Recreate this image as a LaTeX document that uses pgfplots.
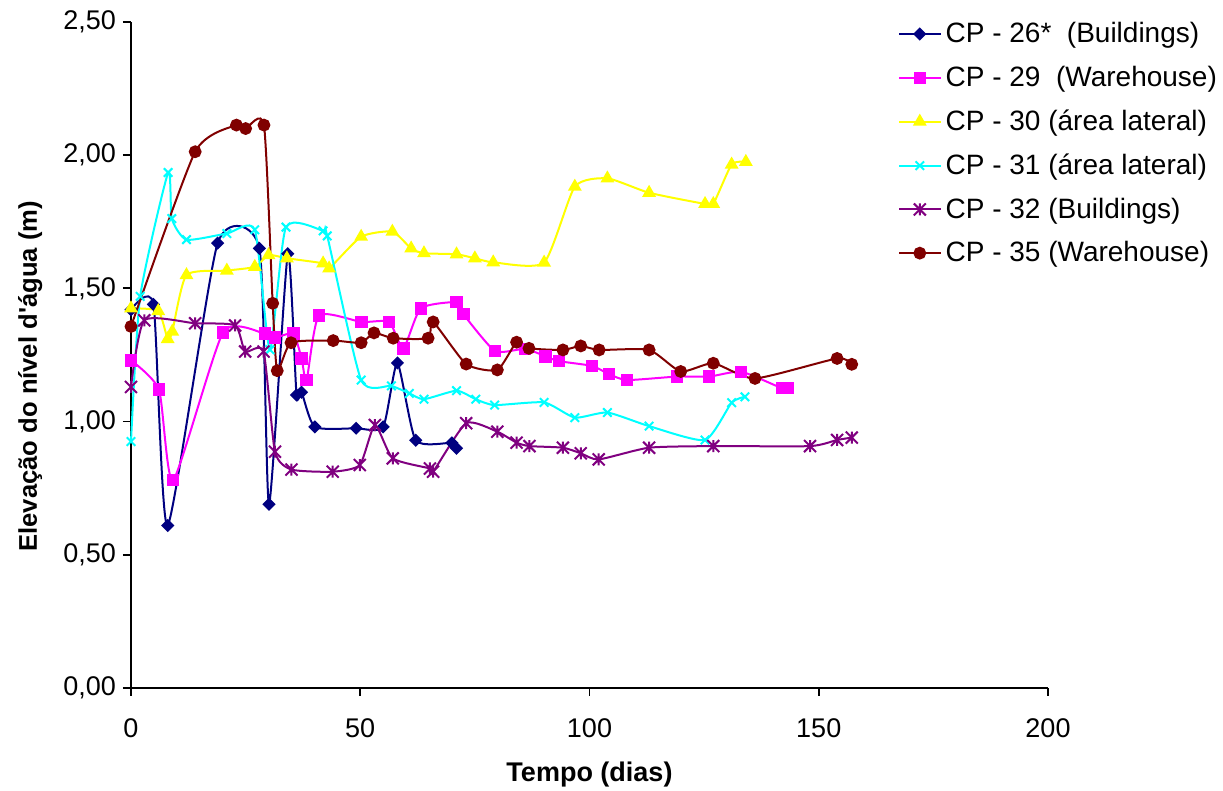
\documentclass[border=0pt]{standalone}
\usepackage{fontspec}
\setmainfont{Liberation Sans}
\usepackage{pgfplots}
\pgfplotsset{compat=1.18}
\usetikzlibrary{plotmarks}
\definecolor{cpnavy}{RGB}{0,0,128}
\definecolor{cpmag}{RGB}{255,0,255}
\definecolor{cpyel}{RGB}{255,255,0}
\definecolor{cpcyan}{RGB}{0,255,255}
\definecolor{cppur}{RGB}{128,0,128}
\definecolor{cpred}{RGB}{128,0,0}
\pgfdeclareplotmark{xstar}{%
  \pgfpathmoveto{\pgfqpoint{-\pgfplotmarksize}{-\pgfplotmarksize}}%
  \pgfpathlineto{\pgfqpoint{\pgfplotmarksize}{\pgfplotmarksize}}%
  \pgfpathmoveto{\pgfqpoint{-\pgfplotmarksize}{\pgfplotmarksize}}%
  \pgfpathlineto{\pgfqpoint{\pgfplotmarksize}{-\pgfplotmarksize}}%
  \pgfpathmoveto{\pgfqpoint{0pt}{-\pgfplotmarksize}}%
  \pgfpathlineto{\pgfqpoint{0pt}{\pgfplotmarksize}}%
  \pgfusepathqstroke}
\pgfdeclareplotmark{sqdiamond}{%
  \pgfpathmoveto{\pgfqpoint{0pt}{\pgfplotmarksize}}%
  \pgfpathlineto{\pgfqpoint{\pgfplotmarksize}{0pt}}%
  \pgfpathlineto{\pgfqpoint{0pt}{-\pgfplotmarksize}}%
  \pgfpathlineto{\pgfqpoint{-\pgfplotmarksize}{0pt}}%
  \pgfpathclose
  \pgfusepathqfillstroke}
\begin{document}
\begin{tikzpicture}
\useasboundingbox (0pt,0pt) rectangle (611.5pt,395.5pt);
\begin{axis}[
  at={(65.5pt,51.5pt)}, anchor=south west,
  scale only axis, width=458.5pt, height=333pt,
  xmin=0, xmax=200, ymin=0, ymax=2.5,
  axis lines=left,
  axis line style={-, line width=0.9pt},
  tick align=outside, major tick length=4pt,
  tick style={line width=0.9pt, black},
  xtick={0,50,100,150,200},
  ytick={0,0.5,1,1.5,2,2.5},
  /pgf/number format/assume math mode=true,
  yticklabel style={/pgf/number format/.cd, fixed, fixed zerofill, precision=2, use comma},
  ticklabel style={font=\fontsize{13.5}{16}\selectfont},
  xticklabel style={yshift=-8pt},
  xlabel={\textbf{Tempo (dias)}},
  ylabel={\textbf{Elevação do nível d\textquotesingle água (m)}},
  label style={font=\fontsize{13.5}{16}\selectfont},
  x label style={at={(axis description cs:0.5,-0.130)}, anchor=center},
  y label style={at={(axis description cs:-0.110,0.468)}, anchor=center, font=\fontsize{12.8}{15}\selectfont},
  clip=false,
  every axis plot/.append style={line width=1pt, smooth, tension=0.35},
  legend style={at={(axis description cs:0.836,1.006)}, anchor=north west,
    draw=none, fill=none, font=\fontsize{14}{17}\selectfont,
    row sep=6.2pt, inner sep=0pt},
  legend cell align=left,
  legend image code/.code={\draw[mark repeat=2,mark phase=2,#1] plot coordinates {(0pt,0pt) (10.4pt,0pt) (20.8pt,0pt)};},
]
\addplot[color=cpnavy, mark=sqdiamond, mark options={solid}, mark size=2.6pt] coordinates {
(0,1.42) (4.9,1.44) (8.0,0.61) (18.9,1.67) (28.0,1.65) (30.1,0.69) (34.2,1.63) (36.1,1.10) (37.2,1.11) (40.1,0.98) (49.1,0.975) (55.0,0.98) (58.1,1.22) (62.1,0.93) (70.0,0.92) (71.0,0.90)};
\addlegendentry{CP - 26*\ \ (Buildings)}
\addplot[color=cpmag, mark=square*, mark size=2.6pt] coordinates {
(0,1.23) (6.1,1.12) (9.2,0.78) (20.1,1.335) (29.2,1.33) (31.4,1.315) (35.4,1.33) (37.2,1.237) (38.3,1.156) (41.0,1.398) (50.3,1.374) (56.3,1.374) (59.4,1.275) (63.2,1.425) (71.0,1.448) (72.5,1.403) (79.4,1.265) (85.9,1.273) (90.4,1.245) (93.3,1.227) (100.5,1.209) (104.3,1.178) (108.2,1.156) (119.1,1.169) (126.1,1.169) (133.1,1.187) (142.0,1.125) (143.3,1.125)};
\addlegendentry{CP - 29\ \ (Warehouse)}
\addplot[color=cpyel, mark=triangle*, mark size=3pt] coordinates {
(0,1.425) (5.95,1.415) (8.0,1.31) (9.0,1.338) (12.1,1.55) (20.9,1.567) (27.0,1.581) (30.0,1.625) (34.0,1.613) (41.9,1.594) (43.2,1.575) (50.2,1.694) (57.0,1.713) (61.1,1.650) (63.9,1.632) (71.0,1.628) (75.0,1.613) (79.0,1.598) (90.1,1.597) (96.8,1.882) (103.9,1.913) (113.0,1.859) (125.2,1.817) (127.0,1.817) (131.0,1.965) (134.1,1.975)};
\addlegendentry{CP - 30 (área lateral)}
\addplot[color=cpcyan, mark=x, mark size=3pt] coordinates {
(0,0.925) (2.0,1.47) (8.1,1.935) (8.9,1.762) (12.1,1.683) (20.9,1.706) (27.0,1.72) (30.3,1.27) (33.8,1.73) (41.9,1.716) (42.8,1.697) (50.2,1.156) (56.8,1.134) (60.7,1.106) (63.9,1.084) (71.0,1.116) (75.2,1.084) (79.3,1.062) (90.1,1.072) (96.8,1.015) (103.9,1.034) (113.0,0.983) (125.2,0.931) (131.0,1.071) (133.9,1.093)};
\addlegendentry{CP - 31 (área lateral)}
\addplot[color=cppur, mark=xstar, mark size=3pt] coordinates {
(0,1.13) (2.9,1.38) (14.0,1.369) (22.7,1.361) (24.9,1.263) (28.9,1.263) (31.4,0.887) (35.0,0.82) (44.0,0.812) (49.9,0.837) (53.2,0.987) (57.1,0.862) (65.2,0.824) (65.9,0.812) (73.1,0.994) (79.9,0.962) (84.1,0.921) (86.9,0.908) (94.2,0.902) (98.1,0.881) (102.0,0.858) (113.0,0.902) (127.0,0.908) (148.1,0.908) (154.0,0.931) (157.2,0.94)};
\addlegendentry{CP - 32 (Buildings)}
\addplot[color=cpred, mark=*, mark size=2.7pt] coordinates {
(0,1.357) (14.0,2.013) (23.0,2.113) (25.0,2.10) (29.0,2.113) (30.9,1.444) (31.9,1.191) (34.9,1.296) (44.1,1.304) (50.2,1.296) (53.0,1.333) (57.2,1.313) (64.8,1.313) (65.9,1.374) (73.1,1.216) (79.9,1.194) (84.1,1.298) (86.8,1.275) (94.2,1.269) (98.1,1.284) (102.1,1.269) (113.0,1.269) (119.9,1.188) (127.0,1.219) (136.1,1.162) (154.0,1.237) (157.2,1.215)};
\addlegendentry{CP - 35 (Warehouse)}
\end{axis}
\end{tikzpicture}
\end{document}
